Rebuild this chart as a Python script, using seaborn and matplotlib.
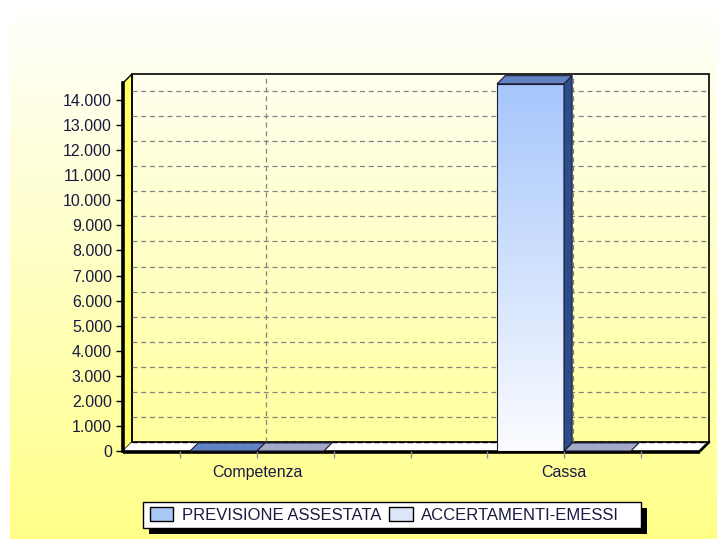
import numpy as np
import pandas as pd
import matplotlib
matplotlib.use("Agg")
import matplotlib.pyplot as plt
import seaborn as sns
from matplotlib.patches import Polygon, Rectangle, Patch
from matplotlib.transforms import offset_copy

# ---------------- data ----------------
categories = ["Competenza", "Cassa"]
series_names = ["PREVISIONE ASSESTATA", "ACCERTAMENTI-EMESSI"]
previsione_assestata = [0, 14650]
accertamenti_emessi = [0, 0]
y_ticks = [0, 1000, 2000, 3000, 4000, 5000, 6000, 7000, 8000, 9000,
           10000, 11000, 12000, 13000, 14000]
y_tick_labels = ["0", "1.000", "2.000", "3.000", "4.000", "5.000", "6.000",
                 "7.000", "8.000", "9.000", "10.000", "11.000", "12.000",
                 "13.000", "14.000"]

df = pd.DataFrame({
    "categoria": categories * 2,
    "serie": [series_names[0]] * 2 + [series_names[1]] * 2,
    "valore": previsione_assestata + accertamenti_emessi,
})

# ---------------- style ----------------
sns.set_style("white")
plt.rcParams["font.family"] = ["Liberation Sans", "DejaVu Sans"]
TXT = "#1a1a40"
FS = 11.5
FS_LEG = 12

W, H = 717, 549
L, R, T, B = 123, 700, 83, 451   # front plane (pixels, y down)
D = 9                             # depth offset (pixels)
YMAX = 14680
XLIM = (-0.4365, 1.443)

front_top = ["#a6c6fc", "#d8e4f8"]
front_bottom = ["#fbfcff", "#ffffff"]
top_face = ["#6283c4", "#a2aac8"]
side_face = ["#2d4c8a", "#7880a0"]
legend_colors = ["#a8c8f8", "#dce6f8"]

fig = plt.figure(figsize=(W / 100, H / 100), dpi=100)
fig.patch.set_facecolor("white")

# background panel (pixel coordinates)
bg = fig.add_axes([0, 0, 1, 1], zorder=0)
bg.set_xlim(0, W)
bg.set_ylim(H, 0)
bg.axis("off")
n = 256
t = np.linspace(0, 1, n)[:, None, None]
top_c = np.array([1.0, 1.0, 1.0])
bot_c = np.array([1.0, 1.0, 136 / 255])
grad = top_c * (1 - t) + bot_c * t
bg.imshow(grad, extent=[10, W, 539, 0], origin="upper", aspect="auto",
          interpolation="bilinear", zorder=0)
bg.set_xlim(0, W)
bg.set_ylim(H, 0)

# side wall, floor, back wall outline
bg.add_patch(Polygon([(L, B), (L, T), (L + D, T - D), (L + D, B - D)],
                     closed=True, facecolor="#ffff66", edgecolor="black",
                     lw=1, zorder=1))
bg.add_patch(Polygon([(L, B), (R, B), (R + D, B - D), (L + D, B - D)],
                     closed=True, facecolor="white", edgecolor="none", zorder=1))
bg.add_patch(Rectangle((L + D, T - D), R - L, B - T, fill=False,
                       edgecolor="black", lw=1.2, zorder=2))
bg.plot([L, R], [B + 0.5, B + 0.5], color="black", lw=2.6, zorder=3,
        solid_capstyle="butt")
bg.plot([R, R + D], [B, B - D], color="black", lw=2.0, zorder=3)

# legend box with shadow (pixel coordinates)
LX0, LX1, LY0, LY1 = 143, 641, 502, 528
bg.add_patch(Rectangle((LX0 + 6, LY0 + 6), LX1 - LX0, LY1 - LY0,
                       facecolor="black", edgecolor="none", zorder=4))
bg.add_patch(Rectangle((LX0, LY0), LX1 - LX0, LY1 - LY0,
                       facecolor="white", edgecolor="black", lw=1.0, zorder=5))

# ---------------- main axes (front plane) ----------------
ax = fig.add_axes([L / W, 1 - B / H, (R - L) / W, (B - T) / H], zorder=1)
ax.patch.set_alpha(0)

sns.barplot(data=df, x="categoria", y="valore", hue="serie",
            order=categories, hue_order=series_names, palette=front_top,
            saturation=1, width=0.436, edgecolor="#1a1a30", linewidth=0.8,
            legend=False, ax=ax, err_kws={"linewidth": 0})

ax.set_xlim(*XLIM)
ax.set_ylim(0, YMAX)

ddx = D * 0.9 / (R - L) * (XLIM[1] - XLIM[0])
ddy = D * 0.9 / (B - T) * YMAX

# back wall grid
tback = offset_copy(ax.transData, fig=fig, x=D, y=D, units="dots")
for yv in y_ticks[1:]:
    ax.plot(XLIM, [yv, yv], transform=tback, color="#848484", lw=0.9,
            ls=(0, (4, 3)), zorder=0.5, clip_on=False)
for i in range(len(categories)):
    ax.plot([i, i], [0, YMAX], transform=tback, color="#848484", lw=0.9,
            ls=(0, (4, 3)), zorder=0.5, clip_on=False)
ax.plot(XLIM, [0, 0], transform=tback, color="black", lw=1.0,
        ls=(0, (4, 2)), zorder=0.6, clip_on=False)

# 3D bar faces
bars = [p for p in ax.patches if isinstance(p, Rectangle)]
for p in bars:
    x0, w, h = p.get_x(), p.get_width(), p.get_height()
    right = x0 + w
    s = 0 if abs(right - round(right)) < 1e-6 else 1
    z = 3 if h > 0 else 2
    p.set_zorder(z)
    if h > 0:
        p.set_facecolor("none")
        g = np.array(matplotlib.colors.to_rgb(front_top[s]))[None, None, :] * (1 - t) + \
            np.array(matplotlib.colors.to_rgb(front_bottom[s]))[None, None, :] * t
        im = ax.imshow(g, extent=[x0, right, 0, h], origin="upper",
                       aspect="auto", interpolation="bilinear", zorder=z - 0.1)
        im.set_clip_path(p)
        ax.add_patch(Polygon([(right, 0), (right, h), (right + ddx, h + ddy),
                              (right + ddx, ddy)], closed=True,
                             facecolor=side_face[s], edgecolor="#1a1a30",
                             lw=0.8, zorder=z, clip_on=False))
    else:
        p.set_visible(False)
    ax.add_patch(Polygon([(x0, h), (right, h), (right + ddx, h + ddy),
                          (x0 + ddx, h + ddy)], closed=True,
                         facecolor=top_face[s], edgecolor="#1a1a30",
                         lw=0.8, zorder=z, clip_on=False))

ax.set_xlim(*XLIM)
ax.set_ylim(0, YMAX)

# axes decoration
for sp in ["top", "right", "bottom"]:
    ax.spines[sp].set_visible(False)
ax.spines["left"].set_linewidth(2.6)
ax.spines["left"].set_color("black")

ax.set_yticks(y_ticks, y_tick_labels)
ax.tick_params(axis="y", left=True, length=5, width=1, color="black",
               pad=3, labelsize=FS, labelcolor=TXT, direction="out")
ax.set_xticks(range(len(categories)), categories)
ax.set_xticks([-0.25, 0.25, 0.5, 0.75, 1.25], minor=True)
ax.tick_params(axis="x", which="both", bottom=True, length=5, width=1,
               color="#909090", pad=5, labelsize=FS, labelcolor=TXT,
               direction="out")
ax.set_xlabel("")
ax.set_ylabel("")
ax.grid(False)

# legend entries (frame drawn above as box with shadow)
handles = [Patch(facecolor=c, edgecolor="black", lw=1) for c in legend_colors]
leg = fig.legend(handles, series_names, loc="center left",
                 bbox_to_anchor=(150 / W, 1 - (LY0 + LY1) / 2 / H), ncol=2,
                 frameon=False, fontsize=FS_LEG, borderpad=0,
                 borderaxespad=0, handlelength=1.4, handleheight=0.85,
                 handletextpad=0.5, columnspacing=0.5, labelcolor=TXT)
leg.set_zorder(6)

fig.savefig("out.png", dpi=100)
